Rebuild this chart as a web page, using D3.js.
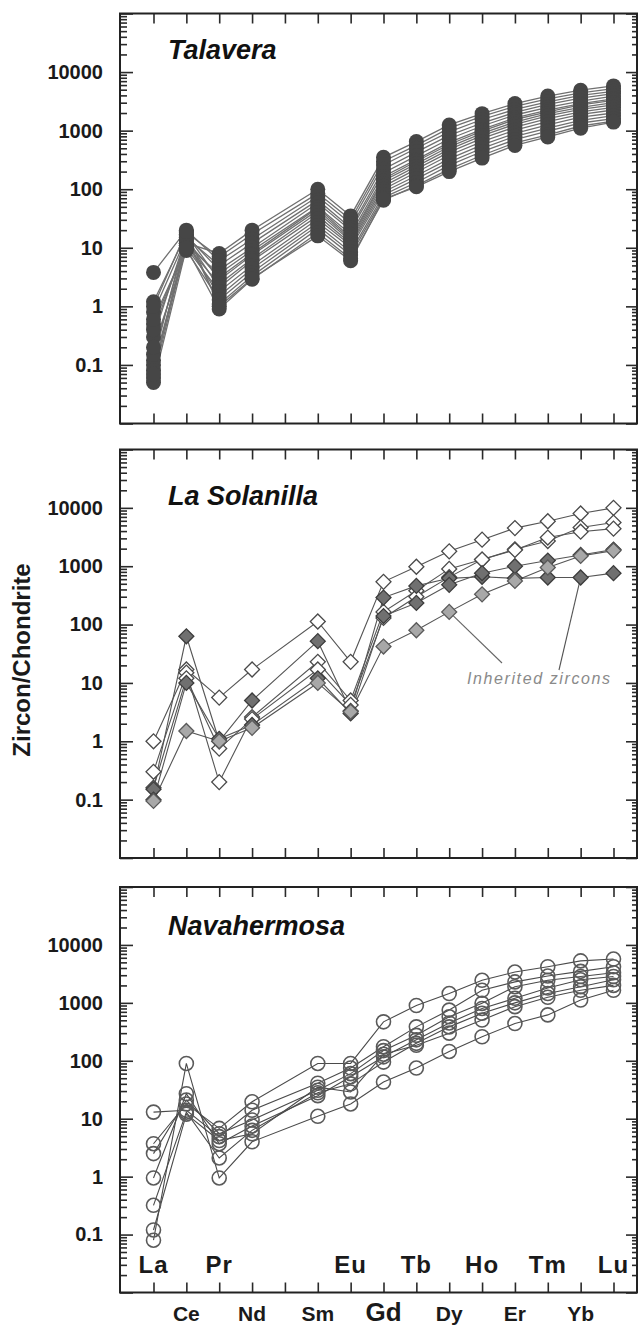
<!DOCTYPE html>
<html><head><meta charset="utf-8">
<script src="https://cdn.jsdelivr.net/npm/d3@7"></script>
<style>
body{margin:0;background:#fff}
svg{display:block}
text{font-family:"Liberation Sans",Arial,Helvetica,sans-serif}
</style>
</head><body>
<svg id="chart" width="641" height="1326"></svg>
<script>
// ---------- data ----------
const elements = ["La","Ce","Pr","Nd","Pm","Sm","Eu","Gd","Tb","Dy","Ho","Er","Tm","Yb","Lu"];
const measured = ["La","Ce","Pr","Nd","Sm","Eu","Gd","Tb","Dy","Ho","Er","Tm","Yb","Lu"];
const upperLabels = ["La","Pr","Eu","Tb","Ho","Tm","Lu"];
const lowerLabels = ["Ce","Nd","Sm","Gd","Dy","Er","Yb"];
const yTickValues = [0.1, 1, 10, 100, 1000, 10000];
const yTickLabels = ["0.1","1","10","100","1000","10000"];
const panelNames = ["Talavera","La Solanilla","Navahermosa"];
const yAxisTitle = "Zircon/Chondrite";
const annotationText = "Inherited zircons";

// Talavera (filled circles)
const talavera = [
  [0.06, 12, 8,   20,  100, 35,  350, 650, 1250, 1950, 2900, 3900, 4900, 5800],
  [0.12, 18, 7,   17,  85,  30,  300, 560, 1100, 1750, 2600, 3500, 4400, 5200],
  [3.8,  20, 6,   14,  75,  26,  260, 500, 950,  1550, 2300, 3100, 4000, 4700],
  [0.8,  15, 5,   12,  65,  22,  220, 430, 830,  1350, 2050, 2800, 3600, 4300],
  [0.3,  16, 4.2, 10,  58,  20,  190, 370, 720,  1200, 1850, 2500, 3200, 3900],
  [0.1,  11, 3.6, 9,   50,  17,  165, 320, 630,  1050, 1650, 2250, 2900, 3500],
  [0.08, 13, 3.1, 8,   48,  15,  150, 300, 580,  980,  1550, 2100, 2750, 3300],
  [1.2,  17, 2.8, 7.5, 44,  14,  140, 270, 530,  900,  1400, 1950, 2500, 3000],
  [0.5,  11, 2.4, 6.5, 40,  13,  125, 245, 480,  820,  1280, 1780, 2300, 2750],
  [0.15, 14, 2.1, 6,   35,  12,  112, 220, 430,  740,  1150, 1600, 2100, 2500],
  [0.05, 10, 1.8, 5,   31,  11,  100, 195, 380,  650,  1020, 1420, 1900, 2250],
  [0.4,  12, 1.5, 4.4, 27,  10,  90,  170, 330,  570,  900,  1250, 1700, 2000],
  [0.2,  9,  1.3, 3.8, 24,  8.5, 80,  150, 290,  500,  800,  1100, 1500, 1800],
  [0.07, 15, 1.1, 3.3, 21,  7.5, 72,  130, 255,  440,  700,  980,  1350, 1600],
  [0.6,  10, 0.9, 2.9, 18,  6.5, 65,  115, 220,  380,  620,  850,  1200, 1450],
  [1.0,  19, 1.0, 3.0, 16,  6.0, 68,  110, 200,  340,  560,  780,  1100, 1400]
];

// La Solanilla (diamonds)
const solanillaOpen = [
  [1.0,  17, 5.6,  17,  113, 23,  540, 980, 1800, 2850, 4500, 5900, 8000, 10000],
  [0.3,  15, 0.2,  2.6, 23,  5,   165, 380, 900,  1300, 1950, 2700, 4600, 5600],
  [0.16, 12, 0.75, 2.4, 17,  4.2, 130, 300, 650,  1300, 1900, 3100, 3900, 4400]
];
const solanillaFilled = [
  [0.15, 63, 1.0,  5.0, 52,  3.3, 290, 460, 620,  660,  620,  640,  640,  760],
  [0.1,  10, 1.1,  1.9, 12,  3.0, 140, 235, 480,  760,  1000, 1250, 1560, 1930]
];
const solanillaInherited = [
  [0.095, 1.5, 1.0, 1.7, 10, 3.2, 42, 80, 165, 330, 560, 950, 1500, 1850]
];

// Navahermosa (open circles)
const navahermosa = [
  [3.7,  18, 6.8,  19.6, 90, 90, 470, 900, 1450, 2450, 3400, 4200, 5300, 5700],
  [13,   14, 4.9,  14,   41, 75, 175, 385, 750,  1650, 2300, 2900, 3500, 4200],
  [2.5,  21, 5.5,  9.5,  31, 60, 150, 275, 575,  980,  1900, 2450, 2850, 3300],
  [0.95, 27, 3.7,  7.5,  25, 53, 117, 230, 450,  800,  1200, 1800, 2500, 2850],
  [0.32, 13, 2.1,  6.3,  28, 40, 95,  200, 385,  660,  1000, 1450, 1900, 2500],
  [0.12, 12, 4.2,  5.5,  35, 29, 130, 185, 300,  505,  860,  1250, 1650, 2000],
  [0.08, 90, 0.95, 4.0,  11, 18, 43,  75,  145,  260,  440,  620,  1120, 1650]
];

// ---------- layout ----------
const svg = d3.select("#chart");
const L = 120, R = 637;
const panels = [
  {top: 13.5, bottom: 423.5, titleY: 59},
  {top: 449.5, bottom: 858, titleY: 505},
  {top: 887, bottom: 1292.5, titleY: 935}
];
const x = d3.scalePoint().domain(elements).range([153.5, 613.5]);
const toPoints = row => row.map((v, i) => ({el: measured[i], v}));
const lineGen = y => d3.line().x(d => x(d.el)).y(d => y(d.v));

function drawFrame(p, y, idx) {
  const g = svg.append("g");
  const allTicks = y.ticks();
  const isMajor = t => Math.abs(Math.log10(t) - Math.round(Math.log10(t))) < 1e-9;
  const minors = allTicks.filter(t => !isMajor(t));
  const majorsAll = allTicks.filter(isMajor);
  const axMinL = d3.axisLeft(y).tickValues(minors).tickSizeInner(-7).tickSizeOuter(0).tickFormat("");
  const axMajL = d3.axisLeft(y).tickValues(majorsAll).tickSizeInner(-13).tickSizeOuter(0).tickPadding(17)
     .tickFormat(d => { const k = yTickValues.indexOf(d); return k >= 0 ? yTickLabels[k] : ""; });
  const axMinR = d3.axisRight(y).tickValues(minors).tickSizeInner(-5).tickSizeOuter(0).tickFormat("");
  const axMajR = d3.axisRight(y).tickValues(majorsAll).tickSizeInner(-11).tickSizeOuter(0).tickFormat("");
  const axT = d3.axisTop(x).tickSizeInner(-10).tickSizeOuter(0).tickFormat("");
  const axB = d3.axisBottom(x).tickSizeInner(-10).tickSizeOuter(0).tickFormat("");
  [[axMinL, `translate(${L},0)`],[axMajL, `translate(${L},0)`],[axMinR, `translate(${R},0)`],[axMajR, `translate(${R},0)`],
   [axT, `translate(0,${p.top})`],[axB, `translate(0,${p.bottom})`]].forEach(([ax, tr]) => {
    const a = g.append("g").attr("transform", tr).call(ax);
    a.select(".domain").remove();
    a.selectAll("line").attr("stroke", "#2a2a2a").attr("stroke-width", 1.6);
    a.selectAll("text").attr("font-size", 20).attr("font-weight", "bold").attr("fill", "#1a1a1a")
      .attr("font-family", "'Liberation Sans',Arial,sans-serif");
  });
  g.append("rect").attr("x", L).attr("y", p.top).attr("width", R - L).attr("height", p.bottom - p.top)
    .attr("fill", "none").attr("stroke", "#222").attr("stroke-width", 2);
  g.append("text").attr("x", 168).attr("y", p.titleY).text(panelNames[idx])
    .attr("font-size", 27).attr("font-weight", "bold").attr("font-style", "italic").attr("fill", "#111");
}

const ys = panels.map(p => d3.scaleLog().domain([0.01, 100000]).range([p.bottom, p.top]));
panels.forEach((p, i) => drawFrame(p, ys[i], i));

// ---- Panel 1: Talavera ----
{
  const y = ys[0];
  const g = svg.append("g");
  talavera.forEach(row => g.append("path").datum(toPoints(row)).attr("d", lineGen(y))
    .attr("fill", "none").attr("stroke", "#707070").attr("stroke-width", 1.3));
  talavera.forEach(row => g.selectAll(null).data(toPoints(row)).enter().append("circle")
    .attr("cx", d => x(d.el)).attr("cy", d => y(d.v)).attr("r", 7.5).attr("fill", "#464646"));
}

// ---- Panel 2: La Solanilla ----
{
  const y = ys[1];
  const g = svg.append("g");
  const groups = [
    {rows: solanillaOpen, fill: "#ffffff", stroke: "#4a4a4a"},
    {rows: solanillaFilled, fill: "#707070", stroke: "#3c3c3c"},
    {rows: solanillaInherited, fill: "#a8a8a8", stroke: "#5a5a5a"}
  ];
  groups.forEach(gr => gr.rows.forEach(row => g.append("path").datum(toPoints(row)).attr("d", lineGen(y))
    .attr("fill", "none").attr("stroke", "#555").attr("stroke-width", 1.1)));
  const c = solanillaInherited[0], b = solanillaFilled[0];
  g.append("line").attr("x1", x("Dy")).attr("y1", y(c[measured.indexOf("Dy")])).attr("x2", 502).attr("y2", 663)
    .attr("stroke", "#666").attr("stroke-width", 1.1);
  g.append("line").attr("x1", x("Yb")).attr("y1", y(b[measured.indexOf("Yb")])).attr("x2", 559).attr("y2", 670)
    .attr("stroke", "#555").attr("stroke-width", 1.1);
  const diamond = d3.symbol().type(d3.symbolSquare).size(112);
  groups.forEach(gr => gr.rows.forEach(row => g.selectAll(null).data(toPoints(row)).enter().append("path")
    .attr("d", diamond).attr("transform", d => `translate(${x(d.el)},${y(d.v)}) rotate(45)`)
    .attr("fill", gr.fill).attr("stroke", gr.stroke).attr("stroke-width", 1.3)));
  g.append("text").attr("x", 467).attr("y", 684).text(annotationText)
    .attr("font-size", 16).attr("font-style", "italic").attr("letter-spacing", 1.6).attr("fill", "#8a8a8a");
}

// ---- Panel 3: Navahermosa ----
{
  const y = ys[2];
  const g = svg.append("g");
  navahermosa.forEach(row => g.append("path").datum(toPoints(row)).attr("d", lineGen(y))
    .attr("fill", "none").attr("stroke", "#4a4a4a").attr("stroke-width", 1.1));
  navahermosa.forEach(row => g.selectAll(null).data(toPoints(row)).enter().append("circle")
    .attr("cx", d => x(d.el)).attr("cy", d => y(d.v)).attr("r", 7).attr("fill", "none")
    .attr("stroke", "#5a5a5a").attr("stroke-width", 1.6));
  g.selectAll(null).data(upperLabels).enter().append("text")
    .attr("x", d => x(d)).attr("y", 1273).attr("text-anchor", "middle").text(d => d)
    .attr("font-size", 24).attr("font-weight", "bold").attr("letter-spacing", 1).attr("fill", "#1a1a1a");
  g.selectAll(null).data(lowerLabels).enter().append("text")
    .attr("x", d => x(d)).attr("y", 1321).attr("text-anchor", "middle").text(d => d)
    .attr("font-size", d => d === "Gd" ? 26 : 21).attr("font-weight", "bold").attr("fill", "#1a1a1a");
}

// y axis title
svg.append("text").attr("transform", "translate(21,660) rotate(-90)").attr("text-anchor", "middle")
  .attr("dominant-baseline", "central").text(yAxisTitle)
  .attr("font-size", 24).attr("font-weight", "bold").attr("fill", "#1a1a1a");
</script>
</body></html>
